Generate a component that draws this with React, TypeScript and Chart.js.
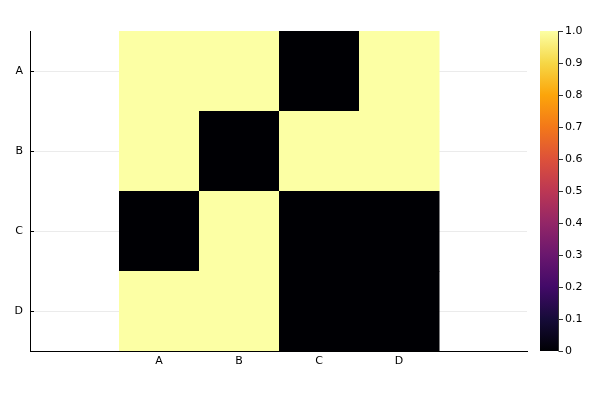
import React, { useEffect, useRef } from "react";
import { Chart, registerables } from "chart.js";

Chart.register(...registerables);

const xLabels = ["A", "B", "C", "D"];
const yLabels = ["A", "B", "C", "D"];
// values[row][col], row = y category, col = x category
const rowA = [1, 1, 0, 1];
const rowB = [1, 0, 1, 1];
const rowC = [0, 1, 0, 0];
const rowD = [1, 1, 0, 0];
const values = [rowA, rowB, rowC, rowD];
const colorbarTicks = [0, 0.1, 0.2, 0.3, 0.4, 0.5, 0.6, 0.7, 0.8, 0.9, 1.0];

const inferno = [
  "#000004", "#160b39", "#420a68", "#6a176e", "#932667", "#bc3754",
  "#dd513a", "#f37819", "#fca50a", "#f6d746", "#fcffa4",
];

function hexToRgb(h: string) {
  const n = parseInt(h.slice(1), 16);
  return [(n >> 16) & 255, (n >> 8) & 255, n & 255];
}
function colorFor(v: number) {
  const t = Math.max(0, Math.min(1, v)) * (inferno.length - 1);
  const i = Math.min(inferno.length - 2, Math.floor(t));
  const f = t - i;
  const a = hexToRgb(inferno[i]);
  const b = hexToRgb(inferno[i + 1]);
  const c = a.map((x, k) => Math.round(x + (b[k] - x) * f));
  return `rgb(${c[0]},${c[1]},${c[2]})`;
}

const FONT = { family: "'DejaVu Sans', sans-serif", size: 11 };

const heatPlugin = {
  id: "heat",
  beforeDatasetsDraw(chart: any) {
    const { ctx, chartArea } = chart;
    const xs = chart.scales.x;
    const ys = chart.scales.y;
    ctx.save();
    ctx.beginPath();
    ctx.rect(chartArea.left, chartArea.top, chartArea.right - chartArea.left, chartArea.bottom - chartArea.top);
    ctx.clip();
    values.forEach((row, r) => {
      row.forEach((v, c) => {
        const x0 = Math.round(xs.getPixelForValue(c + 0.5));
        const x1 = Math.round(xs.getPixelForValue(c + 1.5));
        const y0 = Math.round(ys.getPixelForValue(r + 0.5));
        const y1 = Math.round(ys.getPixelForValue(r + 1.5));
        ctx.fillStyle = colorFor(v);
        ctx.fillRect(Math.min(x0, x1), Math.min(y0, y1), Math.abs(x1 - x0) + 0.5, Math.abs(y1 - y0) + 0.5);
      });
    });
    ctx.restore();
  },
  afterDraw(chart: any) {
    const { ctx, chartArea } = chart;
    const ys = chart.scales.y;
    const cb = chart.scales.cb;
    ctx.save();
    // inner y tick marks
    ctx.strokeStyle = "#000";
    ctx.lineWidth = 1;
    yLabels.forEach((_, i) => {
      const y = Math.round(ys.getPixelForValue(i + 1)) + 0.5;
      ctx.beginPath();
      ctx.moveTo(chartArea.left, y);
      ctx.lineTo(chartArea.left + 4, y);
      ctx.stroke();
    });
    // colorbar
    const top = cb.getPixelForValue(1);
    const bot = cb.getPixelForValue(0);
    const cx0 = 540;
    const cx1 = 558;
    const g = ctx.createLinearGradient(0, bot, 0, top);
    inferno.forEach((c, i) => g.addColorStop(i / (inferno.length - 1), c));
    ctx.fillStyle = g;
    ctx.fillRect(cx0, top, cx1 - cx0, bot - top);
    ctx.strokeStyle = "#333";
    ctx.beginPath();
    ctx.moveTo(cx1 + 0.5, top);
    ctx.lineTo(cx1 + 0.5, bot);
    ctx.stroke();
    colorbarTicks.forEach((v) => {
      const y = Math.round(cb.getPixelForValue(v)) + 0.5;
      ctx.beginPath();
      ctx.moveTo(cx1 + 0.5, y);
      ctx.lineTo(cx1 + 5, y);
      ctx.stroke();
    });
    ctx.restore();
  },
};

export default function App() {
  const ref = useRef<HTMLCanvasElement>(null);
  useEffect(() => {
    document.body.style.margin = "0";
    const chart = new Chart(ref.current as HTMLCanvasElement, {
      type: "scatter",
      data: { datasets: [{ data: [], showLine: false }] },
      options: {
        animation: false,
        responsive: false,
        layout: { padding: { top: 31, left: 0, right: 0, bottom: 0 } },
        plugins: { legend: { display: false }, tooltip: { enabled: false } },
        scales: {
          x: {
            type: "linear",
            min: -0.6125,
            max: 5.6,
            afterBuildTicks: (s: any) => {
              s.ticks = xLabels.map((_, i) => ({ value: i + 1 }));
            },
            afterFit: (s: any) => {
              s.height = 49;
              s.paddingLeft = 0;
              s.paddingRight = 0;
            },
            ticks: {
              font: FONT,
              color: "#000",
              padding: 4,
              maxRotation: 0,
              callback: (v: any) => xLabels[Math.round(v) - 1] ?? "",
            },
            grid: { color: "rgba(0,0,0,0.08)", drawTicks: false, tickLength: 0 },
            border: { color: "#000", width: 1 },
          },
          y: {
            type: "linear",
            position: "left",
            reverse: true,
            min: 0.5,
            max: 4.5,
            afterBuildTicks: (s: any) => {
              s.ticks = yLabels.map((_, i) => ({ value: i + 1 }));
            },
            afterFit: (s: any) => {
              s.width = 30;
              s.paddingTop = 0;
              s.paddingBottom = 0;
            },
            ticks: {
              font: FONT,
              color: "#000",
              padding: 7,
              callback: (v: any) => yLabels[Math.round(v) - 1] ?? "",
            },
            grid: { color: "rgba(0,0,0,0.08)", drawTicks: false, tickLength: 0 },
            border: { color: "#000", width: 1 },
          },
          cb: {
            type: "linear",
            position: "right",
            min: 0,
            max: 1,
            afterBuildTicks: (s: any) => {
              s.ticks = colorbarTicks.map((v) => ({ value: v }));
            },
            afterFit: (s: any) => {
              s.width = 73;
              s.paddingTop = 0;
              s.paddingBottom = 0;
            },
            ticks: {
              font: FONT,
              color: "#000",
              padding: 38,
              callback: (v: any) => (v === 0 ? "0" : Number(v).toFixed(1)),
            },
            grid: { display: false, drawTicks: false, tickLength: 0 },
            border: { display: false },
          },
        },
      } as any,
      plugins: [heatPlugin],
    });
    return () => chart.destroy();
  }, []);
  return (
    <div style={{ width: 600, height: 400 }}>
      <canvas ref={ref} width={600} height={400} />
    </div>
  );
}
